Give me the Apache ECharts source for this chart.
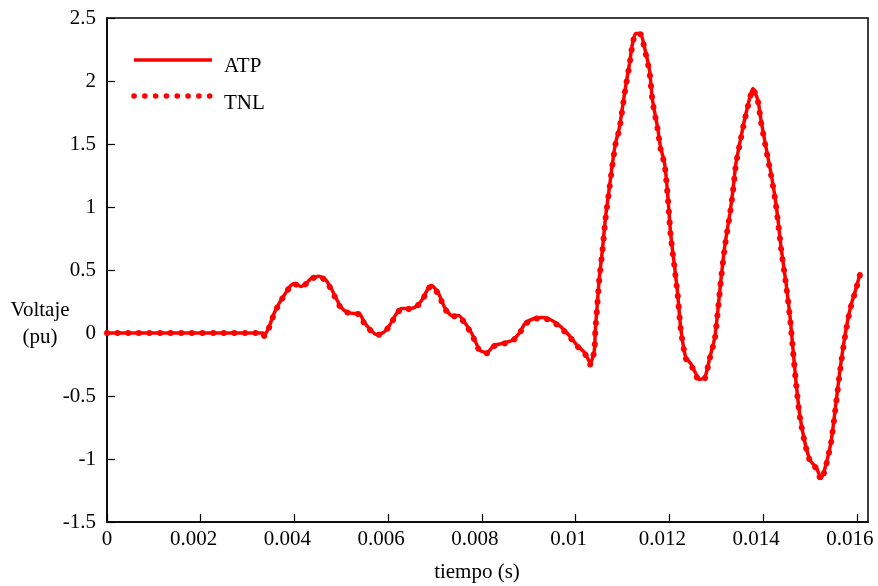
<!DOCTYPE html>
<html>
<head>
<meta charset="utf-8">
<script src="https://cdn.jsdelivr.net/npm/echarts@6/dist/echarts.min.js"></script>
<style>
  html, body { margin: 0; padding: 0; background: #fff; }
  #chart { width: 878px; height: 586px; }
</style>
</head>
<body>
<div id="chart"></div>
<script>
// tiempo (s)
const tiempo = [
  0, 0.00333, 0.003356, 0.003456, 0.003564, 0.003671, 0.003778, 0.003885, 0.003992, 0.004142,
  0.004249, 0.004356, 0.004528, 0.004678, 0.004785, 0.004892, 0.004999, 0.005143, 0.005278, 0.005385,
  0.005492, 0.005599, 0.005749, 0.005899, 0.006028, 0.006178, 0.006285, 0.006435, 0.006564, 0.006714,
  0.006864, 0.006928, 0.007078, 0.007207, 0.007357, 0.007507, 0.007635, 0.007785, 0.007957, 0.008107,
  0.008257, 0.008428, 0.008642, 0.008792, 0.008921, 0.009114, 0.009285, 0.009457, 0.00965, 0.009864,
  0.010035, 0.010207, 0.010314, 0.010399, 0.010421, 0.010464, 0.010507, 0.010571, 0.010636, 0.010721,
  0.010786, 0.01085, 0.010935, 0.011, 0.011064, 0.01115, 0.011214, 0.011278, 0.011385, 0.011471,
  0.011578, 0.011643, 0.01175, 0.011814, 0.0119, 0.011964, 0.012028, 0.012114, 0.012178, 0.012242,
  0.01235, 0.012457, 0.012564, 0.012628, 0.012757, 0.012864, 0.012971, 0.013035, 0.0131, 0.013185,
  0.013292, 0.013357, 0.013421, 0.013528, 0.013635, 0.013742, 0.013785, 0.013892, 0.013957, 0.014064,
  0.014171, 0.014257, 0.014321, 0.014385, 0.014492, 0.014578, 0.014642, 0.014707, 0.014792, 0.014899,
  0.015007, 0.015135, 0.015242, 0.015349, 0.015456, 0.015563, 0.015649, 0.015756, 0.015864, 0.015971,
  0.016078
]
// Voltaje (pu) - ATP
const atp = [
  0, 0, -0.02, 0.046, 0.155, 0.234, 0.298, 0.361, 0.393, 0.369,
  0.393, 0.433, 0.451, 0.417, 0.353, 0.274, 0.202, 0.163, 0.155, 0.155,
  0.083, 0.036, -0.012, 0.004, 0.06, 0.155, 0.194, 0.194, 0.202, 0.258,
  0.361, 0.377, 0.313, 0.202, 0.139, 0.139, 0.083, -0.004, -0.139, -0.155,
  -0.099, -0.083, -0.06, -0.004, 0.075, 0.115, 0.123, 0.107, 0.06, -0.02,
  -0.099, -0.163, -0.242, -0.139, 0.02, 0.234, 0.44, 0.655, 0.909, 1.155,
  1.345, 1.504, 1.631, 1.79, 1.948, 2.139, 2.298, 2.377, 2.377, 2.266,
  2.083, 1.845, 1.631, 1.472, 1.345, 1.107, 0.79, 0.52, 0.313, 0.044,
  -0.194, -0.242, -0.321, -0.369, -0.353, -0.194, -0.036, 0.179, 0.417, 0.694,
  0.948, 1.131, 1.345, 1.552, 1.742, 1.901, 1.94, 1.845, 1.687, 1.472,
  1.266, 1.075, 0.893, 0.679, 0.393, 0.123, -0.139, -0.401, -0.671, -0.877,
  -1.012, -1.067, -1.155, -1.036, -0.853, -0.536, -0.274, -0.004, 0.202, 0.337,
  0.48
]
// Voltaje (pu) - TNL
const tnl = [
  0, 0, -0.025, 0.04, 0.15, 0.23, 0.295, 0.355, 0.39, 0.365,
  0.39, 0.43, 0.45, 0.41, 0.345, 0.265, 0.195, 0.16, 0.15, 0.15,
  0.075, 0.03, -0.018, 0.0, 0.055, 0.15, 0.19, 0.19, 0.198, 0.252,
  0.355, 0.375, 0.305, 0.195, 0.133, 0.133, 0.077, -0.01, -0.145, -0.16,
  -0.104, -0.088, -0.065, -0.01, 0.07, 0.11, 0.12, 0.1, 0.053, -0.027,
  -0.105, -0.17, -0.25, -0.145, 0.015, 0.225, 0.43, 0.645, 0.9, 1.145,
  1.335, 1.495, 1.62, 1.78, 1.94, 2.13, 2.29, 2.37, 2.37, 2.255,
  2.07, 1.835, 1.62, 1.46, 1.335, 1.095, 0.78, 0.51, 0.305, 0.035,
  -0.2, -0.25, -0.33, -0.375, -0.36, -0.2, -0.045, 0.17, 0.41, 0.685,
  0.94, 1.12, 1.335, 1.545, 1.735, 1.895, 1.935, 1.835, 1.675, 1.46,
  1.255, 1.065, 0.88, 0.67, 0.383, 0.113, -0.15, -0.41, -0.68, -0.885,
  -1.02, -1.075, -1.165, -1.045, -0.86, -0.545, -0.283, -0.012, 0.195, 0.33,
  0.475
]
const xTicks = [0, 0.002, 0.004, 0.006, 0.008, 0.01, 0.012, 0.014, 0.016]
const yTicks = ['-1.5', '-1', '-0.5', '0', '0.5', '1', '1.5', '2', '2.5']

const fontFamily = '"Liberation Serif", "DejaVu Serif", serif'
const fontSize = 21
const red = '#ff0000'

const mChart = echarts.init(document.getElementById('chart'), null, { renderer: 'canvas' })

const option = {
  backgroundColor: '#fff',
  animation: false,
  grid: {
    left: 107,
    right: 10,
    top: 18,
    bottom: 64,
    outerBoundsMode: 'none',
    show: true,
    borderColor: '#000',
    borderWidth: 1.5
  },
  xAxis: {
    type: 'value',
    min: 0,
    max: 0.01624,
    interval: 0.002,
    splitLine: { show: false },
    axisLine: { show: true, onZero: false, lineStyle: { color: '#000', width: 1.5 } },
    axisTick: { show: true, inside: true, length: 8, lineStyle: { color: '#000', width: 1.2 } },
    axisLabel: {
      color: '#000',
      fontFamily: fontFamily,
      fontSize: fontSize,
      margin: 7,
      showMaxLabel: false,
      hideOverlap: false,
      padding: [0, 14, 0, 0],
      rich: { z: { fontFamily: fontFamily, fontSize: fontSize, color: '#000', padding: [0, 0, 0, 14] } },
      formatter: (v) => {
        const hit = xTicks.find((t) => Math.abs(t - v) < 1e-9)
        if (hit === undefined) return ''
        return hit === 0 ? '{z|0}' : String(hit)
      }
    }
  },
  yAxis: {
    type: 'value',
    min: -1.5,
    max: 2.5,
    interval: 0.5,
    splitLine: { show: false },
    axisLine: { show: true, onZero: false, lineStyle: { color: '#000', width: 1.5 } },
    axisTick: { show: true, inside: true, length: 8, lineStyle: { color: '#000', width: 1.2 } },
    axisLabel: {
      color: '#000',
      fontFamily: fontFamily,
      fontSize: fontSize,
      margin: 11,
      formatter: (v) => {
        const hit = yTicks.find((t) => Math.abs(parseFloat(t) - v) < 1e-9)
        return hit === undefined ? '' : hit
      }
    }
  },
  series: [
    {
      name: 'ATP',
      type: 'line',
      data: tiempo.map((t, i) => [t, atp[i]]),
      showSymbol: false,
      smooth: 0.2,
      lineStyle: { color: red, width: 3.5 },
      z: 2
    },
    {
      name: 'TNL',
      type: 'line',
      data: tiempo.map((t, i) => [t, tnl[i]]),
      showSymbol: false,
      smooth: 0.2,
      lineStyle: { color: red, width: 6, type: [0.1, 10.5], cap: 'round' },
      z: 3
    }
  ],
  graphic: [
    // leyenda
    {
      type: 'line',
      shape: { x1: 134, y1: 60, x2: 212, y2: 60 },
      style: { stroke: red, lineWidth: 3.5 }
    },
    {
      type: 'text',
      left: 224, top: 56,
      style: { text: 'ATP', font: fontSize + 'px ' + fontFamily, fill: '#000' }
    },
    {
      type: 'line',
      shape: { x1: 134, y1: 96, x2: 212, y2: 96 },
      style: { stroke: red, lineWidth: 5.5, lineDash: [0.1, 10.7], lineCap: 'round' }
    },
    {
      type: 'text',
      left: 224, top: 93,
      style: { text: 'TNL', font: fontSize + 'px ' + fontFamily, fill: '#000' }
    },
    // títulos de ejes
    {
      type: 'text',
      x: 40, y: 297,
      style: {
        text: 'Voltaje\n(pu)',
        font: fontSize + 'px ' + fontFamily,
        fill: '#000',
        align: 'center',
        lineHeight: 27
      }
    },
    {
      type: 'text',
      x: 477, y: 562,
      style: { text: 'tiempo (s)', font: fontSize + 'px ' + fontFamily, fill: '#000', align: 'center' }
    }
  ]
}

mChart.setOption(option)
</script>
</body>
</html>
